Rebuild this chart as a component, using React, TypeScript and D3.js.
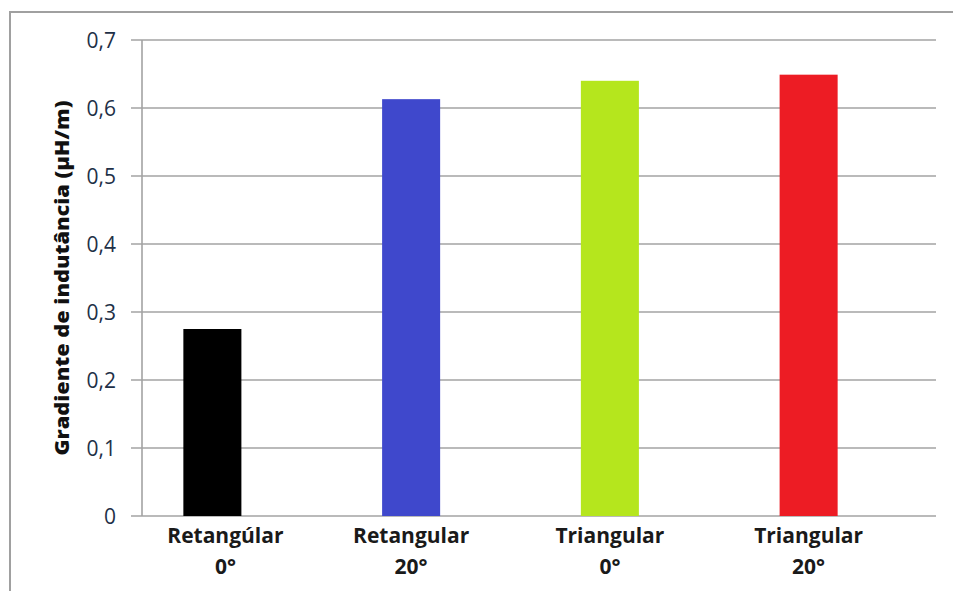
import React from "react";
import * as d3 from "d3";

const categories = ["Retangúlar|0°", "Retangular|20°", "Triangular|0°", "Triangular|20°"];
const values = [0.275, 0.613, 0.64, 0.649];
const colors = ["#000000", "#3f48cc", "#b5e61d", "#ed1c24"];
const yTicks = [0, 0.1, 0.2, 0.3, 0.4, 0.5, 0.6, 0.7];
const yTitle = "Gradiente de indutância  (µH/m)";

const W = 953, H = 591;
const axisX = 142, plotRight = 936, y0 = 516, yTop = 40;

export default function App() {
  const y = d3.scaleLinear().domain([0, 0.7]).range([y0, yTop]);
  const x = d3.scaleBand<string>().domain(categories).range([113, 908]).paddingInner(0.708).paddingOuter(0.354);
  const fmt = (v: number) => (v === 0 ? "0" : d3.format(".1f")(v).replace(".", ","));
  const font = "'Open Sans', sans-serif";
  return (
    <svg width={W} height={H} style={{ position: "absolute", left: 0, top: 0, background: "#fff" }}>
      <rect x={10} y={12} width={W + 20} height={H + 20} fill="#fff" stroke="#a0a0a0" strokeWidth={2} />
      {yTicks.map((t) => (
        <g key={t}>
          <line x1={131} x2={plotRight} y1={y(t)} y2={y(t)} stroke="#a3a3a3" strokeWidth={1.6} />
          <text x={116} y={y(t)} dy="0.36em" textAnchor="end" fontFamily={font} fontSize={21} fill="#1e3047">
            {fmt(t)}
          </text>
        </g>
      ))}
      <line x1={axisX} x2={axisX} y1={yTop} y2={y0} stroke="#a3a3a3" strokeWidth={1.6} />
      {categories.map((c, i) => (
        <rect key={c} x={x(c)} width={x.bandwidth()} y={y(values[i])} height={y0 - y(values[i])} fill={colors[i]} />
      ))}
      {categories.map((c, i) => {
        const [l1, l2] = c.split("|");
        const cx = (x(c) as number) + x.bandwidth() / 2 + (i === 0 ? 13 : 0);
        return (
          <text key={c} x={cx} textAnchor="middle" fontFamily={font} fontSize={21} fontWeight="bold" fill="#1a1a1a">
            <tspan x={cx} y={543}>{l1}</tspan>
            <tspan x={cx} y={574}>{l2}</tspan>
          </text>
        );
      })}
      <text transform={`translate(69,278) rotate(-90)`} textAnchor="middle" fontFamily={font} fontSize={20} fontWeight={800} fill="#111" textLength={355} lengthAdjust="spacingAndGlyphs">
        {yTitle}
      </text>
    </svg>
  );
}
